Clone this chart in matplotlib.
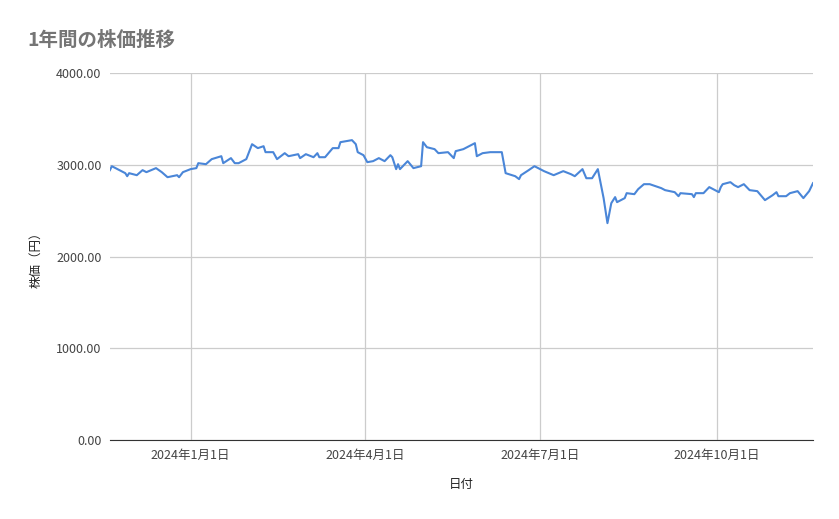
import matplotlib
matplotlib.use("Agg")
import matplotlib.pyplot as plt
import pandas as pd

plt.rcParams['font.family'] = ['Noto Sans CJK JP', 'DejaVu Sans']

dates = ["2023-11-20","2023-11-21","2023-11-24","2023-11-28","2023-11-29","2023-11-30","2023-12-04","2023-12-07","2023-12-09","2023-12-14","2023-12-17","2023-12-20","2023-12-25","2023-12-26","2023-12-28",
"2024-01-01","2024-01-04","2024-01-05","2024-01-09","2024-01-12","2024-01-17","2024-01-18","2024-01-22","2024-01-24","2024-01-26","2024-01-30","2024-02-02","2024-02-05","2024-02-08","2024-02-09","2024-02-13","2024-02-15","2024-02-19","2024-02-21","2024-02-26","2024-02-27",
"2024-03-01","2024-03-05","2024-03-07","2024-03-08","2024-03-11","2024-03-15","2024-03-18","2024-03-19","2024-03-22","2024-03-25","2024-03-27","2024-03-28","2024-03-31",
"2024-04-02","2024-04-05","2024-04-08","2024-04-11","2024-04-14","2024-04-15","2024-04-17","2024-04-18","2024-04-19","2024-04-23","2024-04-26","2024-04-30",
"2024-05-01","2024-05-03","2024-05-07","2024-05-09","2024-05-14","2024-05-17","2024-05-18","2024-05-22","2024-05-28","2024-05-29",
"2024-06-01","2024-06-05","2024-06-11","2024-06-13","2024-06-18","2024-06-20","2024-06-21","2024-06-25","2024-06-28",
"2024-07-03","2024-07-08","2024-07-13","2024-07-17","2024-07-19","2024-07-23","2024-07-25","2024-07-28","2024-07-31",
"2024-08-03","2024-08-05","2024-08-07","2024-08-09","2024-08-10","2024-08-14","2024-08-15","2024-08-19","2024-08-21","2024-08-24","2024-08-27",
"2024-09-02","2024-09-04","2024-09-09","2024-09-11","2024-09-12","2024-09-18","2024-09-19","2024-09-20","2024-09-24","2024-09-27","2024-09-30",
"2024-10-02","2024-10-03","2024-10-04","2024-10-08","2024-10-10","2024-10-12","2024-10-15","2024-10-18","2024-10-22","2024-10-26","2024-10-30",
"2024-11-01","2024-11-02","2024-11-06","2024-11-08","2024-11-12","2024-11-15","2024-11-18","2024-11-20"]

prices = [2943,2986,2954,2910,2877,2910,2888,2943,2921,2965,2921,2866,2888,2866,2921,
2954,2965,3019,3008,3063,3095,3019,3074,3019,3019,3063,3226,3183,3204,3139,3139,3063,3128,3095,3117,3074,
3117,3084,3128,3084,3084,3183,3183,3248,3259,3270,3226,3139,3106,
3030,3041,3074,3041,3106,3084,2954,3008,2954,3041,2965,2986,
3248,3193,3172,3128,3139,3074,3150,3172,3237,3095,
3128,3139,3139,2910,2877,2845,2888,2943,2986,
2932,2888,2932,2899,2877,2954,2855,2855,2954,
2638,2365,2583,2649,2594,2638,2692,2681,2736,2790,2790,
2747,2725,2703,2659,2692,2681,2649,2692,2692,2758,2725,
2703,2758,2790,2812,2779,2758,2790,2725,2714,2616,2670,
2703,2659,2659,2692,2714,2638,2714,2801]

yticks = [0, 1000, 2000, 3000, 4000]
xtick_dates = ["2024-01-01", "2024-04-01", "2024-07-01", "2024-10-01"]
xtick_labels = ["2024年1月1日", "2024年4月1日", "2024年7月1日", "2024年10月1日"]

x = pd.to_datetime(dates)
fig = plt.figure(figsize=(8.39, 5.19), dpi=100)
ax = fig.add_axes([0.131, 0.152, 0.838, 0.707])
ax.plot(x, prices, color="#4a86d8", linewidth=1.5)
ax.set_xlim(pd.Timestamp("2023-11-20"), pd.Timestamp("2024-11-20"))
ax.set_ylim(0, 4000)
ax.set_yticks(yticks)
ax.set_yticklabels([f"{v:.2f}" for v in yticks])
ax.set_xticks(pd.to_datetime(xtick_dates))
ax.set_xticklabels(xtick_labels)
ax.grid(True, color="#cccccc", linewidth=0.9)
ax.set_axisbelow(True)
for s in ["top", "right", "left"]:
    ax.spines[s].set_visible(False)
ax.spines["bottom"].set_color("#333333")
ax.tick_params(length=0, labelsize=9, colors="#444444", pad=6)
ax.set_xlabel("日付", fontsize=9, color="#222222", labelpad=12)
ax.set_ylabel("株価（円）", fontsize=9, color="#222222", labelpad=10)
fig.text(0.033, 0.922, "1年間の株価推移", fontsize=14, color="#757575", ha="left", va="center", fontweight="bold")
fig.savefig("out.png", dpi=100)
